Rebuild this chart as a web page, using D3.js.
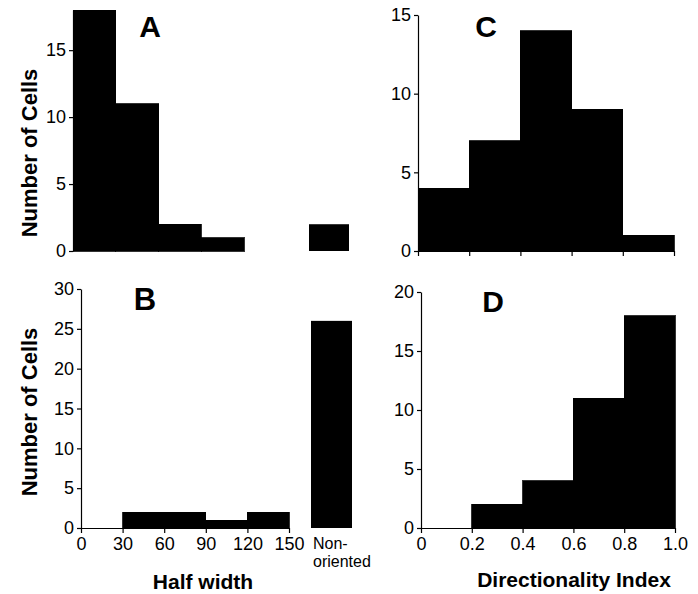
<!DOCTYPE html>
<html>
<head>
<meta charset="utf-8">
<script src="https://cdn.jsdelivr.net/npm/d3@7"></script>
<style>
  body { margin: 0; background: #fff; }
  text { font-family: "Liberation Sans", Arial, Helvetica, sans-serif; }
</style>
</head>
<body>
<svg id="chart" width="698" height="594"></svg>
<script>
// half width histograms (A, B)
var halfWidthBins = [0, 30, 60, 90, 120, 150],
  halfWidthTicks = [0, 30, 60, 90, 120, 150],
  countsA = [18, 11, 2, 1, 0],
  countsB = [0, 2, 2, 1, 2],
  nonOrientedA = 2,
  nonOrientedB = 26,
  nonOrientedLabel = ['Non-', 'oriented'];

// directionality index histograms (C, D)
var dirBins = [0, 0.2, 0.4, 0.6, 0.8, 1.0],
  dirTicks = [0, 0.2, 0.4, 0.6, 0.8, 1.0],
  countsC = [4, 7, 14, 9, 1],
  countsD = [0, 2, 4, 11, 18];

var yTicksA = [0, 5, 10, 15],
  yTicksB = [0, 5, 10, 15, 20, 25, 30],
  yTicksC = [0, 5, 10, 15],
  yTicksD = [0, 5, 10, 15, 20];

var svg = d3.select('#chart');

histogram({
  letter: 'A', letterX: 150, letterY: 37, letterSize: 30,
  bins: halfWidthBins, counts: countsA,
  xRange: [73, 287], yDomain: [0, 18], yRange: [251, 10], yTicks: yTicksA,
  xAxis: 'none',
  nonOriented: nonOrientedA, noRange: [309, 349],
  yTitleY: 153
});

histogram({
  letter: 'B', letterX: 145, letterY: 310, letterSize: 31,
  bins: halfWidthBins, counts: countsB,
  xRange: [81, 289], yDomain: [0, 30], yRange: [528, 289], yTicks: yTicksB,
  xAxis: 'labels', xTicks: halfWidthTicks, xFormat: d3.format('d'),
  nonOriented: nonOrientedB, noRange: [311, 352], noLabel: true,
  yTitleY: 412,
  title: 'Half width', titleX: 203, titleY: 589
});

histogram({
  letter: 'C', letterX: 486, letterY: 37, letterSize: 30,
  bins: dirBins, counts: countsC,
  xRange: [418, 674], yDomain: [0, 15], yRange: [251, 15], yTicks: yTicksC,
  xAxis: 'ticks', xTicks: dirTicks
});

histogram({
  letter: 'D', letterX: 493, letterY: 312, letterSize: 30,
  bins: dirBins, counts: countsD,
  xRange: [421, 675], yDomain: [0, 20], yRange: [528, 292], yTicks: yTicksD,
  xAxis: 'labels', xTicks: dirTicks,
  xFormat: function (d) { return d === 0 ? '0' : d3.format('.1f')(d); },
  title: 'Directionality Index', titleX: 574, titleY: 587
});

function histogram(cfg) {
  var g = svg.append('g'),
    x = d3.scaleLinear()
      .domain([cfg.bins[0], cfg.bins[cfg.bins.length - 1]])
      .range(cfg.xRange),
    y = d3.scaleLinear().domain(cfg.yDomain).range(cfg.yRange),
    data = d3.pairs(cfg.bins).map(function (p, i) {
      return {x0: p[0], x1: p[1], n: cfg.counts[i]};
    });

  g.append('g')
    .attr('shape-rendering', 'crispEdges')
    .selectAll('rect')
    .data(data)
    .enter()
    .append('rect')
    .attr('x', function (d) { return x(d.x0); })
    .attr('width', function (d) { return x(d.x1) - x(d.x0); })
    .attr('y', function (d) { return y(d.n); })
    .attr('height', function (d) { return y(0) - y(d.n); })
    .style('fill', '#000')
    .style('stroke', '#000')
    .style('stroke-width', 0.8);

  if (cfg.nonOriented !== undefined) {
    var band = d3.scaleBand().domain(['Non-oriented']).range(cfg.noRange);
    g.append('rect')
      .attr('x', band('Non-oriented'))
      .attr('width', band.bandwidth())
      .attr('y', y(cfg.nonOriented))
      .attr('height', y(0) - y(cfg.nonOriented))
      .style('fill', '#000');

    // two lines under the bar
    if (cfg.noLabel) {
      g.selectAll('text.nolabel')
        .data(nonOrientedLabel)
        .enter()
        .append('text')
        .classed('nolabel', true)
        .attr('x', band('Non-oriented') + 2)
        .attr('y', function (d, i) { return y(0) + 21 + i * 18; })
        .style('font-size', '16px')
        .text(function (d) { return d; });
    }
  }

  var yAxis = g.append('g')
    .attr('transform', 'translate(' + x.range()[0] + ',0)')
    .call(d3.axisLeft(y)
      .tickValues(cfg.yTicks)
      .tickSize(4)
      .tickSizeOuter(0)
      .tickPadding(3)
      .tickFormat(d3.format('d')));
  styleAxis(yAxis);

  if (cfg.xAxis !== 'none') {
    var xAxis = g.append('g')
      .attr('transform', 'translate(0,' + y(0) + ')')
      .call(d3.axisBottom(x)
        .tickValues(cfg.xTicks)
        .tickSize(5)
        .tickSizeOuter(0)
        .tickPadding(4)
        .tickFormat(cfg.xAxis === 'labels' ? cfg.xFormat : ''));
    styleAxis(xAxis);
  }

  g.append('text')
    .attr('x', cfg.letterX)
    .attr('y', cfg.letterY)
    .attr('text-anchor', 'middle')
    .style('font-size', cfg.letterSize + 'px')
    .style('font-weight', 'bold')
    .text(cfg.letter);

  if (cfg.yTitleY) {
    g.append('text')
      .attr('transform', 'translate(37,' + cfg.yTitleY + ') rotate(-90)')
      .attr('text-anchor', 'middle')
      .style('font-size', '22px')
      .style('font-weight', 'bold')
      .text('Number of Cells');
  }

  if (cfg.title) {
    g.append('text')
      .attr('x', cfg.titleX)
      .attr('y', cfg.titleY)
      .attr('text-anchor', 'middle')
      .style('font-size', '21px')
      .style('font-weight', 'bold')
      .text(cfg.title);
  }
}

function styleAxis(sel) {
  sel.select('.domain').style('stroke', '#000').style('stroke-width', 1.2);
  sel.selectAll('.tick line').style('stroke', '#000').style('stroke-width', 1.2);
  sel.selectAll('.tick text')
    .style('font-family', '"Liberation Sans", Arial, Helvetica, sans-serif')
    .style('font-size', '18px')
    .style('fill', '#000');
}
</script>
</body>
</html>
